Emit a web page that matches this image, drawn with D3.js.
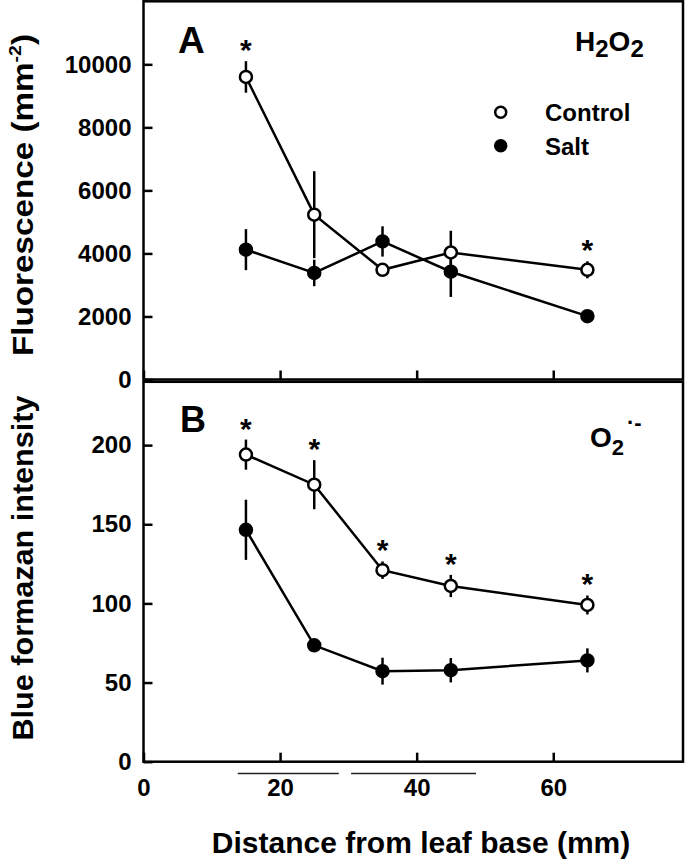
<!DOCTYPE html>
<html>
<head>
<meta charset="utf-8">
<script src="https://cdn.jsdelivr.net/npm/d3@7/dist/d3.min.js"></script>
<style>
  html, body { margin: 0; padding: 0; background: #fff; }
  svg text { font-family: "Liberation Sans", Arial, Helvetica, sans-serif; font-weight: bold; fill: #000; }
</style>
</head>
<body>
<svg id="chart" width="685" height="862"></svg>
<script>
// ---- Data ----
const distances = [15, 25, 35, 45, 65];            // mm from leaf base
const h2o2Control    = [9600, 5230, 3480, 4030, 3480];
const h2o2ControlErr = [500, 1380, 150, 690, 270];
const h2o2Salt       = [4120, 3380, 4380, 3420, 2010];
const h2o2SaltErr    = [650, 420, 480, 800, 100];
const h2o2Stars      = [15, 65];                    // significant points (control)

const o2Control    = [194, 175, 121, 111, 99];
const o2ControlErr = [9.5, 15.5, 5.5, 7, 6];
const o2Salt       = [146.5, 73.5, 57.2, 57.8, 64];
const o2SaltErr    = [19, 3, 8.5, 7.7, 7.6];
const o2Stars      = [15, 25, 35, 45, 65];

const xTicks  = [0, 20, 40, 60];
const yTicksA = [0, 2000, 4000, 6000, 8000, 10000];
const yTicksB = [0, 50, 100, 150, 200];
const zoneBars = [[13.8, 28.6], [30.4, 48.7]];     // lines under the x axis
const seriesNames = ["Control", "Salt"];

// ---- Layout ----
const svg = d3.select("#chart");
const left = 143.5, right = 683;
const x = d3.scaleLinear().domain([0, 79]).range([left, right]);
const yA = d3.scaleLinear().domain([0, 12000]).range([379.5, 1.3]);
const yB = d3.scaleLinear().domain([0, 240]).range([761.7, 381.8]);

const LW = 2.5;

function panel(y, ctrl, ctrlErr, salt, saltErr, yTicks, stars, showXLabels) {
  const g = svg.append("g");
  const [y0, y1] = y.range();
  // frame
  g.append("rect").attr("x", left).attr("y", y1).attr("width", right - left).attr("height", y0 - y1)
    .attr("fill", "none").attr("stroke", "#000").attr("stroke-width", LW);

  // y axis
  const ya = g.append("g").attr("transform", `translate(${left},0)`)
    .call(d3.axisLeft(y).tickValues(yTicks).tickFormat(d3.format("d")).tickSizeInner(-9).tickSizeOuter(0).tickPadding(12));
  ya.select(".domain").remove();
  ya.selectAll("line").attr("stroke", "#000").attr("stroke-width", LW);
  ya.selectAll("text").attr("font-size", 24).attr("font-family", null);

  // x axis
  const xa = g.append("g").attr("transform", `translate(0,${y0})`)
    .call(d3.axisBottom(x).tickValues(xTicks).tickFormat(showXLabels ? d3.format("d") : () => "")
      .tickSizeInner(-9).tickSizeOuter(0).tickPadding(17));
  xa.select(".domain").remove();
  xa.selectAll("line").attr("stroke", "#000").attr("stroke-width", LW);
  xa.selectAll("text").attr("font-size", 24).attr("font-family", null);

  const line = d3.line().x((d, i) => x(distances[i])).y(d => y(d));

  const drawSeries = (vals, errs, filled) => {
    g.append("path").attr("d", line(vals)).attr("fill", "none").attr("stroke", "#000").attr("stroke-width", LW);
    g.selectAll(null).data(vals).enter().append("line")
      .attr("x1", (d, i) => x(distances[i])).attr("x2", (d, i) => x(distances[i]))
      .attr("y1", (d, i) => y(d - errs[i])).attr("y2", (d, i) => y(d + errs[i]))
      .attr("stroke", "#000").attr("stroke-width", LW);
    g.selectAll(null).data(vals).enter().append("circle")
      .attr("cx", (d, i) => x(distances[i])).attr("cy", d => y(d)).attr("r", 6)
      .attr("fill", filled ? "#000" : "#fff").attr("stroke", "#000").attr("stroke-width", LW);
  };
  drawSeries(salt, saltErr, true);
  drawSeries(ctrl, ctrlErr, false);

  // significance stars
  g.selectAll(null).data(stars).enter().append("text")
    .attr("x", d => x(d)).attr("text-anchor", "middle").attr("font-size", 30)
    .attr("y", d => { const i = distances.indexOf(d); return y(ctrl[i] + ctrlErr[i]) - 1; })
    .text("*");
  return g;
}

const gA = panel(yA, h2o2Control, h2o2ControlErr, h2o2Salt, h2o2SaltErr, yTicksA, h2o2Stars, false);
const gB = panel(yB, o2Control, o2ControlErr, o2Salt, o2SaltErr, yTicksB, o2Stars, true);

// panel letters
svg.append("text").attr("x", 178).attr("y", 53).attr("font-size", 37).text("A");
svg.append("text").attr("x", 180).attr("y", 432).attr("font-size", 36).text("B");

// species labels
const h = svg.append("text").attr("x", 575).attr("y", 51).attr("font-size", 28);
h.append("tspan").text("H");
h.append("tspan").attr("font-size", 24).attr("dy", 6).text("2");
h.append("tspan").attr("dy", -6).text("O");
h.append("tspan").attr("font-size", 24).attr("dy", 6).text("2");

const o = svg.append("text").attr("x", 590).attr("y", 447).attr("font-size", 28);
o.append("tspan").text("O");
o.append("tspan").attr("font-size", 22).attr("dy", 8).text("2");
o.append("tspan").attr("font-size", 22).attr("dx", 3).attr("dy", -25).text("·-");

// legend
const legY = [112.3, 145.7];
seriesNames.forEach((name, i) => {
  svg.append("circle").attr("cx", 500.7).attr("cy", legY[i]).attr("r", 5.5)
    .attr("fill", i === 0 ? "#fff" : "#000").attr("stroke", "#000").attr("stroke-width", LW);
  svg.append("text").attr("x", 545).attr("y", legY[i] + 9).attr("font-size", 24).text(name);
});

// zone lines under the x axis
svg.selectAll(null).data(zoneBars).enter().append("line")
  .attr("x1", d => x(d[0])).attr("x2", d => x(d[1])).attr("y1", 773.5).attr("y2", 773.5)
  .attr("stroke", "#222").attr("stroke-width", 1.5);

// axis titles
svg.append("text").attr("x", 421).attr("y", 853).attr("text-anchor", "middle").attr("font-size", 30)
  .text("Distance from leaf base (mm)");

const fl = svg.append("text").attr("transform", "translate(33,195) rotate(-90)")
  .attr("text-anchor", "middle").attr("font-size", 29)
  .attr("textLength", 322).attr("lengthAdjust", "spacingAndGlyphs");
fl.append("tspan").text("Fluorescence (mm");
fl.append("tspan").attr("font-size", 17).attr("dy", -12).text("-2");
fl.append("tspan").attr("dy", 12).text(")");

svg.append("text").attr("transform", "translate(33,568) rotate(-90)")
  .attr("text-anchor", "middle").attr("font-size", 29)
  .attr("textLength", 345).attr("lengthAdjust", "spacingAndGlyphs")
  .text("Blue formazan intensity");
</script>
</body>
</html>
